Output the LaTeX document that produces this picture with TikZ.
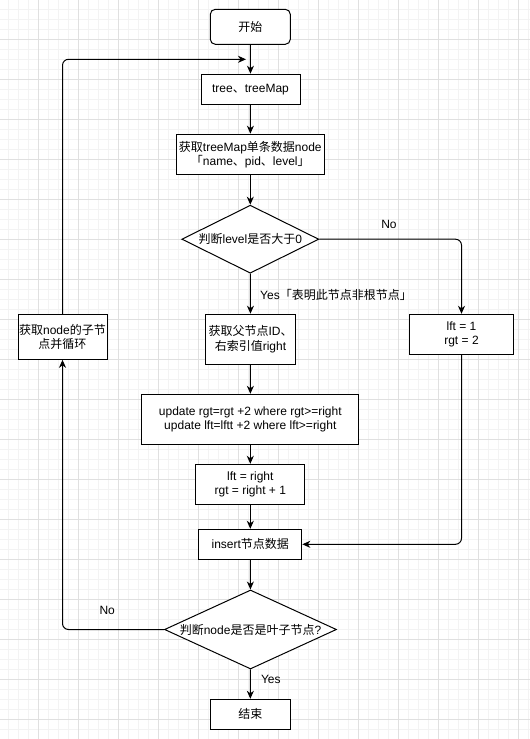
\documentclass[tikz,border=0pt]{standalone}
\usepackage{fontspec}
\setmainfont{Liberation Sans}
\newfontfamily\cjk{Noto Sans CJK SC}
\usetikzlibrary{shapes.geometric,arrows.meta}
\definecolor{gridminor}{HTML}{F3F3F3}
\definecolor{gridmajor}{HTML}{E0E0E0}
\tikzset{
  box/.style={draw=black, line width=1pt, fill=white, align=center, inner sep=0pt, font=\fontsize{12}{14}\selectfont},
  decide/.style={diamond, draw=black, line width=1pt, fill=white, align=center, inner sep=0pt, font=\fontsize{12}{14}\selectfont},
  conn/.style={line width=1pt, -{Stealth[length=8pt,width=7pt,inset=2.5pt]}},
  lbl/.style={inner sep=0pt, font=\fontsize{12}{14}\selectfont},
}
\begin{document}
\begin{tikzpicture}[x=1pt,y=-1pt]
\useasboundingbox (0,0) rectangle (530,739);
\fill[white] (0,0) rectangle (530,739);
\foreach \i in {0,...,52} {
  \draw[gridminor, line width=1pt] (8.3+10*\i,0) -- (8.3+10*\i,739);
}
\foreach \i in {0,...,73} {
  \draw[gridminor, line width=1pt] (0,9.3+10*\i) -- (530,9.3+10*\i);
}
\foreach \i in {0,...,12} {
  \draw[gridmajor, line width=1pt] (38.3+40*\i,0) -- (38.3+40*\i,739);
}
\foreach \i in {0,...,18} {
  \draw[gridmajor, line width=1pt] (0,39.3+40*\i) -- (530,39.3+40*\i);
}

\node[box, rounded corners=5pt, minimum width=80pt, minimum height=35pt] (start) at (250.3,26.8) {{\cjk 开始}};
\node[box, minimum width=99pt, minimum height=30pt] (tree) at (250.5,89.2) {tree{\cjk 、}treeMap};
\node[box, minimum width=148pt, minimum height=40pt] (get) at (250.3,154.2) {{\cjk 获取}treeMap{\cjk 单条数据}node\\{\cjk 「}name{\cjk 、}pid{\cjk 、}level{\cjk 」}};
\node[decide, aspect=2.0, minimum width=137pt, minimum height=68pt] (d1) at (250.3,239.2) {{\cjk 判断}level{\cjk 是否大于}0};
\node[box, minimum width=90pt, minimum height=50pt] (parent) at (250.5,339.2) {{\cjk 获取父节点}ID{\cjk 、}\\{\cjk 右索引值}right};
\node[box, minimum width=104pt, minimum height=40pt] (lft) at (461.5,334.3) {lft = 1\\rgt = 2};
\node[box, minimum width=89pt, minimum height=45pt] (loop) at (62.5,336.8) {{\cjk 获取}node{\cjk 的子节}\\{\cjk 点并循环}};
\node[box, minimum width=217pt, minimum height=50pt] (update) at (250.3,419.3) {update rgt=rgt +2 where rgt>=right\\update lft=lftt +2 where lft>=right};
\node[box, minimum width=108.7pt, minimum height=40pt] (lr) at (250.3,484.3) {lft = right\\rgt = right + 1};
\node[box, minimum width=103pt, minimum height=30pt] (insert) at (250.3,544.3) {insert{\cjk 节点数据}};
\node[decide, aspect=2.18, minimum width=172pt, minimum height=79pt] (d2) at (250.5,629.5) {{\cjk 判断}node{\cjk 是否是叶子节点}?};
\node[box, minimum width=80pt, minimum height=30pt] (end) at (250.3,714.3) {{\cjk 结束}};

\coordinate (loopin) at (246,59.3);

\draw[conn] (start) -- (tree);
\draw[conn] (tree) -- (get);
\draw[conn] (get) -- (d1);
\draw[conn] (d1) -- (parent);
\draw[conn, rounded corners=6pt] (d1.east) -| (lft.north);
\draw[conn] (parent) -- (update);
\draw[conn] (update) -- (lr);
\draw[conn] (lr) -- (insert);
\draw[conn, rounded corners=6pt] (lft.south) |- (insert.east);
\draw[conn] (insert) -- (d2);
\draw[conn] (d2) -- (end);
\draw[conn, rounded corners=6pt] (d2.west) -| (loop.south);
\draw[conn, rounded corners=6pt] (loop.north) |- (loopin);

\node[lbl] (lno1) at (389,224.3) {No};
\node[lbl, anchor=west] (lyes1) at (260,295.3) {Yes{\cjk 「表明此节点非根节点」}};
\node[lbl] (lno2) at (107.2,610) {No};
\node[lbl] (lyes2) at (270.8,679.3) {Yes};
\end{tikzpicture}
\end{document}
